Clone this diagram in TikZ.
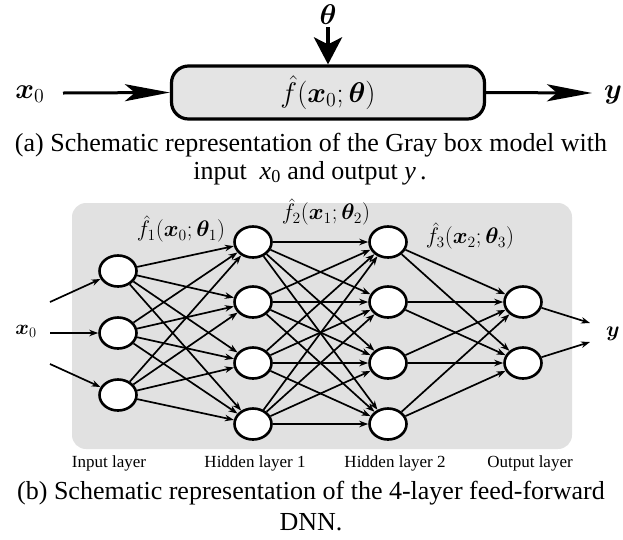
\documentclass[tikz,border=0pt]{standalone}
\usepackage{bm}
\usepackage{fontspec}
\setmainfont{Liberation Serif}
\usetikzlibrary{arrows.meta,shapes.geometric}

\definecolor{panelgray}{RGB}{225,225,225}
\definecolor{boxgray}{RGB}{228,228,228}

\tikzset{
  hflow/.style={line width=3pt, -{Stealth[length=45pt,width=17pt,inset=10pt]}},
  vflow/.style={line width=4.5pt, -{Stealth[length=27pt,width=28pt,inset=7pt]}},
  blockbox/.style={draw, line width=3.2pt, rounded corners=17pt, fill=boxgray,
    minimum width=313pt, minimum height=53pt, inner sep=0pt},
  neuron/.style={ellipse, draw, line width=2.6pt, fill=white,
    minimum width=37pt, minimum height=31pt, inner sep=0pt},
  link/.style={line width=1.7pt, -{Stealth[length=9pt,width=6.5pt]}},
  mathlbl/.style={font=\fontsize{17.28}{21}\selectfont, inner sep=0pt},
  layerlbl/.style={font=\fontsize{17}{20}\selectfont, inner sep=0pt},
  caption/.style={font=\fontsize{26}{30}\selectfont, inner sep=0pt},
}

\begin{document}
\begin{tikzpicture}[x=1pt,y=-1pt]
\useasboundingbox (0,0) rectangle (623,539);

% ---- (a) gray box model ----
\node[blockbox] (blk) at (328,92.5) {};
\node[mathlbl] (fhat) at (blk.center) {\scalebox{1.65}{$\hat{f}(\bm{x}_0;\bm{\theta})$}};
\node[mathlbl] (theta) at (328,15) {\scalebox{1.65}{$\bm{\theta}$}};
\coordinate (thetaout) at (328,27);
\node[mathlbl] (xin) at (30,94) {\scalebox{1.65}{$\bm{x}_0$}};
\coordinate (xstart) at (63,93);
\coordinate (yend) at (592,93);
\node[mathlbl] (yout) at (613,95) {\scalebox{1.65}{$\bm{y}$}};
\draw[vflow] (thetaout) -- (blk.north);
\draw[hflow] (xstart) -- (blk.west);
\draw[hflow] (blk.east) -- (yend);

\node[caption] (capa1) at (311,145) {(a) Schematic representation of the Gray box model with};
\node[caption] (capa2) at (310,173) {input\ \ \textit{x}\textsubscript{0} and output \textit{y}\,.};

% ---- (b) feed-forward network ----
\fill[panelgray, rounded corners=14pt] (72,203) rectangle (572,449);

\node[neuron] (i1) at (118,271) {};
\node[neuron] (i2) at (118,333) {};
\node[neuron] (i3) at (118,395) {};
\foreach \k/\yy in {1/242,2/302,3/363,4/424}{
  \node[neuron] (h\k) at (253,\yy) {};
  \node[neuron] (g\k) at (388,\yy) {};
}
\node[neuron] (o1) at (523,302) {};
\node[neuron] (o2) at (523,363) {};

\foreach \a in {1,2,3}{\foreach \b in {1,2,3,4}{\draw[link] (i\a) -- (h\b);}}
\foreach \a in {1,2,3,4}{\foreach \b in {1,2,3,4}{\draw[link] (h\a) -- (g\b);}}
\foreach \a in {1,2,3,4}{\foreach \b in {1,2}{\draw[link] (g\a) -- (o\b);}}

\coordinate (s1) at (50,302);
\coordinate (s2) at (50,333);
\coordinate (s3) at (50,364);
\draw[link] (s1) -- (i1);
\draw[link] (s2) -- (i2);
\draw[link] (s3) -- (i3);
\coordinate (e1) at (590,323);
\coordinate (e2) at (590,342);
\draw[link] (o1) -- (e1);
\draw[link] (o2) -- (e2);

\node[mathlbl] (xb) at (26,331) {\scalebox{1.2}{$\bm{x}_0$}};
\node[mathlbl] (yb) at (613,334) {\scalebox{1.25}{$\bm{y}$}};

\node[mathlbl] (f1) at (181,229) {\scalebox{1.3}{$\hat{f}_1(\bm{x}_0;\bm{\theta}_1)$}};
\node[mathlbl] (f2) at (326,212) {\scalebox{1.3}{$\hat{f}_2(\bm{x}_1;\bm{\theta}_2)$}};
\node[mathlbl] (f3) at (470,236) {\scalebox{1.3}{$\hat{f}_3(\bm{x}_2;\bm{\theta}_3)$}};

\node[layerlbl] (l1) at (109,463) {Input layer};
\node[layerlbl] (l2) at (255,463) {Hidden layer 1};
\node[layerlbl] (l3) at (395,463) {Hidden layer 2};
\node[layerlbl] (l4) at (530,463) {Output layer};

\node[caption] (capb1) at (311,493) {(b) Schematic representation of the 4-layer feed-forward};
\node[caption] (capb2) at (311,522) {DNN.};
\end{tikzpicture}
\end{document}
